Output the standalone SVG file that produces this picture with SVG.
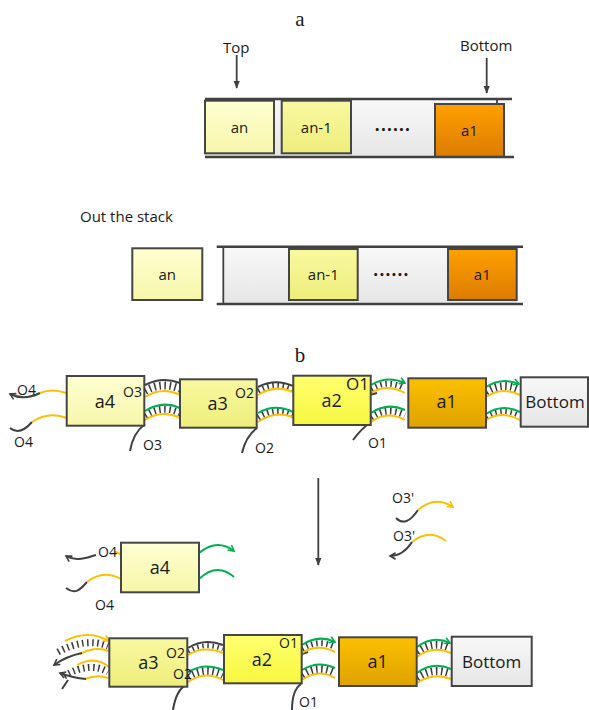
<svg xmlns="http://www.w3.org/2000/svg" width="589" height="710" viewBox="0 0 589 710">
<style>
.box{stroke:#454545;stroke-width:2}
.dk{fill:none;stroke:#404040;stroke-width:2}
.yl{fill:none;stroke:#ffc000;stroke-width:2}
.gn{fill:none;stroke:#00b050;stroke-width:2}
.rg{fill:none;stroke:#3a3a3a;stroke-dasharray:1.5 3.6}
.ln{fill:none;stroke:#404040;stroke-width:1.8}
.rail{fill:none;stroke:#404040;stroke-width:2.5}
text{font-family:"Open Sans","Liberation Sans",sans-serif;fill:#1a1a1a}
.t15{font-size:15px}
.t14{font-size:14px}
.t18{font-size:18px}
.t17{font-size:17px}
.dots{font-size:17px;font-weight:bold}
.ttl{font-family:"Liberation Serif",serif;font-size:21px}
.mid{text-anchor:middle}
</style>
<defs>
<linearGradient id="gPale" x1="0" y1="0" x2="0" y2="1"><stop offset="0" stop-color="#ffffd2"/><stop offset="1" stop-color="#f6f6aa"/></linearGradient>
<linearGradient id="gYel" x1="0" y1="0" x2="0" y2="1"><stop offset="0" stop-color="#f8f8a0"/><stop offset="1" stop-color="#eeee7c"/></linearGradient>
<linearGradient id="gBright" x1="0" y1="0" x2="0" y2="1"><stop offset="0" stop-color="#ffff70"/><stop offset="1" stop-color="#f7f740"/></linearGradient>
<linearGradient id="gOrange" x1="0" y1="0" x2="0" y2="1"><stop offset="0" stop-color="#ffa000"/><stop offset="1" stop-color="#dc7c00"/></linearGradient>
<linearGradient id="gGold" x1="0" y1="0" x2="0" y2="1"><stop offset="0" stop-color="#fcc000"/><stop offset="1" stop-color="#dea200"/></linearGradient>
<linearGradient id="gGray" x1="0" y1="0" x2="0" y2="1"><stop offset="0" stop-color="#f8f8f8"/><stop offset="1" stop-color="#e6e6e6"/></linearGradient>
<marker id="ah" viewBox="0 0 10 10" refX="9" refY="5" markerWidth="8" markerHeight="8" markerUnits="userSpaceOnUse" orient="auto"><path d="M0,1 L10,5 L0,9 Z" fill="#404040"/></marker>
<marker id="cvD" viewBox="0 0 10 10" refX="8" refY="5" markerWidth="8" markerHeight="8" markerUnits="userSpaceOnUse" orient="auto"><path d="M1,1 L8,5 L1,9" fill="none" stroke="#404040" stroke-width="2"/></marker>
<marker id="cvY" viewBox="0 0 10 10" refX="8" refY="5" markerWidth="8" markerHeight="8" markerUnits="userSpaceOnUse" orient="auto"><path d="M1,1 L8,5 L1,9" fill="none" stroke="#ffc000" stroke-width="2"/></marker>
<marker id="cvG" viewBox="0 0 10 10" refX="8" refY="5" markerWidth="8" markerHeight="8" markerUnits="userSpaceOnUse" orient="auto"><path d="M1,1 L8,5 L1,9" fill="none" stroke="#00b050" stroke-width="2"/></marker>
</defs>

<g id="title-a"><text class="ttl mid" x="300" y="26">a</text></g>

<g id="stack1">
<rect x="205" y="99" width="292" height="58" fill="url(#gGray)"/>
<path class="rail" d="M205,99 H512"/>
<path class="rail" d="M205,157 H514"/>
<path class="ln" d="M497,99 V103"/>
</g>
<g id="s1-an"><rect class="box" x="205" y="100.7" width="69" height="52.6" fill="url(#gPale)"/><text class="t15 mid" x="239.5" y="133">an</text></g>
<g id="s1-an1"><rect class="box" x="281.7" y="100.7" width="69.3" height="52.6" fill="url(#gYel)"/><text class="t15 mid" x="316.3" y="133">an-1</text></g>
<g id="s1-dots"><text class="dots mid" x="393" y="131" letter-spacing="1.2">......</text></g>
<g id="s1-a1"><rect class="box" x="435" y="104" width="69" height="52.7" fill="url(#gOrange)"/><text class="t15 mid" x="469.5" y="136">a1</text></g>
<g id="lbl-top"><text class="t15" x="223" y="53">Top</text></g>
<g id="lbl-bottom"><text class="t15" x="460" y="51">Bottom</text></g>

<g id="outstack"><text class="t15" x="80" y="222">Out the stack</text></g>
<g id="s2-an"><rect class="box" x="132.3" y="248.3" width="70" height="51.7" fill="url(#gPale)"/><text class="t15 mid" x="167.3" y="280">an</text></g>
<g id="stack2">
<rect x="223.3" y="247" width="293.4" height="57" fill="url(#gGray)"/>
<path class="ln" d="M223.3,247 V304"/>
<path class="rail" d="M216.7,246.7 H523"/>
<path class="rail" d="M216.7,304 H523"/>
</g>
<g id="s2-an1"><rect class="box" x="289" y="249" width="68.7" height="51" fill="url(#gYel)"/><text class="t15 mid" x="323.3" y="280">an-1</text></g>
<g id="s2-dots"><text class="dots mid" x="391.5" y="276" letter-spacing="1.2">......</text></g>
<g id="s2-a1"><rect class="box" x="448" y="249" width="68.7" height="51" fill="url(#gOrange)"/><text class="t15 mid" x="482.3" y="280">a1</text></g>

<g id="title-b"><text class="ttl mid" x="300" y="362">b</text></g>

<g id="connectors">
<path class="ln" d="M236.7,55 V88" marker-end="url(#ah)"/>
<path class="ln" d="M486.7,58 V93" marker-end="url(#ah)"/>
<path class="ln" d="M318.3,478 V565" marker-end="url(#ah)"/>

<!-- row b1: left of a4 -->
<path class="dk" d="M40,393 C30,398 20,399 10,394" marker-end="url(#cvD)"/>
<path class="yl" d="M40,393 Q52,388 66,393"/>
<path class="dk" d="M32,422 C25,430 17,434 10,428"/>
<path class="yl" d="M32,422 Q48,411 67,418"/>
<path class="dk" d="M144,396 L125,406" marker-end="url(#cvD)"/>
<!-- a4-a3 -->
<path class="rg" stroke-width="8" d="M145,391 Q162,381 180,389"/>
<path class="dk" d="M145,385 Q162,376 180,383"/>
<path class="yl" d="M145,397 Q162,386 180,395"/>
<path class="rg" stroke-width="7" d="M145,415.5 Q162,404.5 180,413"/>
<path class="gn" d="M145,411 Q162,400 180,408"/>
<path class="yl" d="M145,420 Q162,409 180,418"/>
<path class="dk" d="M130,451 Q133,433 145,424"/>
<path class="dk" d="M257,397 L237,408" marker-end="url(#cvD)"/>
<!-- a3-a2 -->
<path class="rg" stroke-width="6" d="M258,391 Q275,381 293,389"/>
<path class="dk" d="M258,387 Q275,378 293,386"/>
<path class="yl" d="M258,395 Q275,384 293,392"/>
<path class="rg" stroke-width="7" d="M258,417.5 Q275,406.5 293,414.5"/>
<path class="gn" d="M258,413 Q275,403 293,412"/>
<path class="yl" d="M258,422 Q275,410 293,417"/>
<path class="dk" d="M242,453 Q246,436 257,428"/>
<path class="dk" d="M377,393 Q362,398 349,390" marker-end="url(#cvD)"/>
<!-- a2-a1 -->
<path class="rg" stroke-width="6" d="M371,389 Q387,379 404,388"/>
<path class="gn" d="M371,385 Q387,375 405,383" marker-end="url(#cvG)"/>
<path class="yl" d="M371,393 Q387,383 405,393"/>
<path class="rg" stroke-width="7" d="M371,417.5 Q387,406 405,415"/>
<path class="gn" d="M371,413 Q387,402 405,410"/>
<path class="yl" d="M371,422 Q387,410 405,420"/>
<path class="dk" d="M353,440 Q361,429 371,422"/>
<!-- a1-Bottom -->
<path class="rg" stroke-width="8" d="M486,392 Q502,381.5 519,389.5"/>
<path class="gn" d="M486,387 Q502,377 519,384" marker-end="url(#cvG)"/>
<path class="yl" d="M486,397 Q502,386 520,395"/>
<path class="rg" stroke-width="5" d="M486,417 Q502,406.5 520,416"/>
<path class="gn" d="M486,414 Q502,403 520,412"/>
<path class="yl" d="M486,420 Q502,410 520,420"/>

<!-- middle: released a4 -->
<path class="dk" d="M96,555 C85,558 76,562 66,556" marker-end="url(#cvD)"/>
<path class="yl" d="M114,552 Q118,552 121,555"/>
<path class="dk" d="M87,582 C80,590 75,595 66,588"/>
<path class="yl" d="M87,582 Q103,569 121,579"/>
<path class="gn" d="M199,553 Q217,538 234,551" marker-end="url(#cvG)"/>
<path class="gn" d="M199,579 Q217,562 234,577"/>
<!-- O3' strands -->
<path class="dk" d="M396,518 Q406,528 418,510"/>
<path class="yl" d="M418,510 Q435,495 453,507" marker-end="url(#cvY)"/>
<path class="yl" d="M412,542 Q430,528 446,541"/>
<path class="dk" d="M412,542 Q403,556 390,556" marker-end="url(#cvD)"/>

<!-- row b2: left of a3 -->
<path class="rg" stroke-width="7" d="M58,652 Q86,637 108,646"/>
<path class="yl" d="M65,641 Q88,629 109,641" marker-end="url(#cvY)"/>
<path class="yl" d="M80,654 Q95,646 109,651"/>
<path class="dk" d="M82,653 Q67,656 54,665" marker-end="url(#cvD)"/>
<path class="rg" stroke-width="7" d="M64,676 Q90,661 108,672"/>
<path class="yl" d="M77,665 Q95,655 109,667"/>
<path class="yl" d="M85,679 Q97,674 108,678"/>
<path class="dk" d="M86,679 Q73,678 60,673" marker-end="url(#cvD)"/>
<path class="dk" d="M68,680 L62,689"/>
<path class="dk" d="M187,658 L169,667" marker-end="url(#cvD)"/>
<!-- a3-a2 -->
<path class="rg" stroke-width="5" d="M188,651.5 Q204,641.5 223,649"/>
<path class="dk" d="M188,648 Q204,638 223,645"/>
<path class="yl" d="M188,655 Q204,645 223,653"/>
<path class="rg" stroke-width="8" d="M188,677 Q205,666 223,675"/>
<path class="gn" d="M188,672 Q205,662 223,670"/>
<path class="yl" d="M188,682 Q205,670 223,680"/>
<path class="dk" d="M173,710 Q176,690 187,684"/>
<path class="dk" d="M308,652 Q293,658 279,650" marker-end="url(#cvD)"/>
<!-- a2-a1 -->
<path class="rg" stroke-width="6" d="M302,649 Q318,638.5 335,647"/>
<path class="gn" d="M302,645 Q318,634 335,642" marker-end="url(#cvG)"/>
<path class="yl" d="M302,653 Q318,643 335,652"/>
<path class="rg" stroke-width="8" d="M302,675 Q318,664 335,673"/>
<path class="gn" d="M302,670 Q318,660 335,668"/>
<path class="yl" d="M302,680 Q318,668 335,678"/>
<path class="dk" d="M292,710 Q292,690 301,684"/>
<!-- a1-Bottom -->
<path class="rg" stroke-width="8" d="M417,652 Q433,640 450,648"/>
<path class="gn" d="M417,647 Q433,635 450,643" marker-end="url(#cvG)"/>
<path class="yl" d="M417,657 Q433,645 451,653"/>
<path class="rg" stroke-width="8" d="M417,678 Q433,666.5 451,674"/>
<path class="gn" d="M417,673 Q433,661 451,669"/>
<path class="yl" d="M417,683 Q433,672 451,679"/>
</g>

<g id="b1-a4"><rect class="box" x="66.7" y="376" width="77.6" height="49.7" fill="url(#gPale)"/><text class="t18 mid" x="105" y="408">a4</text></g>
<g id="b1-a3"><rect class="box" x="180" y="379.3" width="76.7" height="48.4" fill="url(#gYel)"/><text class="t18 mid" x="217.7" y="410">a3</text></g>
<g id="b1-a2"><rect class="box" x="293.3" y="375.7" width="77.4" height="49.3" fill="url(#gBright)"/><text class="t18 mid" x="331.7" y="406.7">a2</text></g>
<g id="b1-a1"><rect class="box" x="408.3" y="378.3" width="77.7" height="49.4" fill="url(#gGold)"/><text class="t18 mid" x="446.7" y="408">a1</text></g>
<g id="b1-bottom"><rect class="box" x="520.7" y="377.3" width="67.3" height="49.4" fill="url(#gGray)"/><text class="t17 mid" x="555" y="408">Bottom</text></g>
<g id="b1-labels">
<text class="t14" x="17" y="395">O4</text>
<text class="t14" x="14" y="447">O4</text>
<text class="t14" x="123" y="397">O3</text>
<text class="t14" x="143" y="450">O3</text>
<text class="t14" x="235" y="398">O2</text>
<text class="t14" x="255" y="453">O2</text>
<text class="t17" x="346" y="390">O1</text>
<text class="t14" x="368" y="448">O1</text>
</g>

<g id="m-a4"><rect class="box" x="121" y="542.7" width="78" height="49.6" fill="url(#gPale)"/><text class="t18 mid" x="160" y="574">a4</text></g>
<g id="m-labels">
<text class="t14" x="98" y="557">O4</text>
<text class="t14" x="95" y="610">O4</text>
<text class="t14" x="392" y="503">O3'</text>
<text class="t14" x="393" y="541">O3'</text>
</g>

<g id="b2-a3"><rect class="box" x="109.3" y="638.3" width="78" height="48.4" fill="url(#gYel)"/><text class="t18 mid" x="148.5" y="669">a3</text></g>
<g id="b2-a2"><rect class="box" x="224" y="635" width="77.7" height="48.3" fill="url(#gBright)"/><text class="t18 mid" x="262" y="666">a2</text></g>
<g id="b2-a1"><rect class="box" x="339" y="637.3" width="77.7" height="48.7" fill="url(#gGold)"/><text class="t18 mid" x="377.7" y="668">a1</text></g>
<g id="b2-bottom"><rect class="box" x="451.7" y="636.7" width="80" height="49.3" fill="url(#gGray)"/><text class="t17 mid" x="491.7" y="668">Bottom</text></g>
<g id="b2-labels">
<text class="t14" x="166" y="658">O2</text>
<text class="t14" x="173" y="679">O2</text>
<text class="t14" x="279" y="648">O1</text>
<text class="t14" x="299" y="707">O1</text>
</g>
</svg>
